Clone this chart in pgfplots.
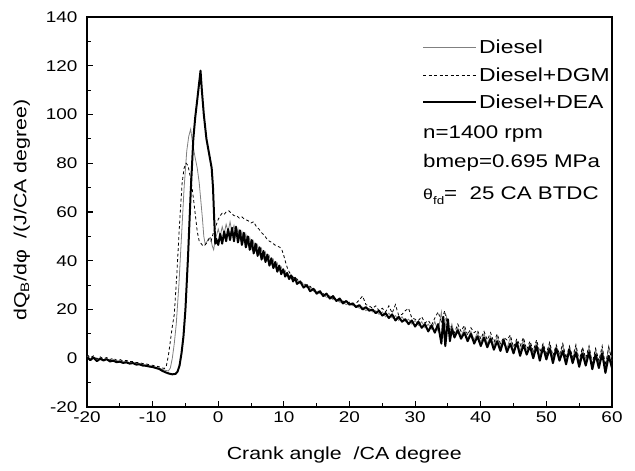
\documentclass[border=0pt]{standalone}
\usepackage{fontspec}
\setmainfont{Liberation Sans}[FakeStretch=1.22]
\usepackage{pgfplots}
\pgfplotsset{compat=1.18}
\begin{document}
\begin{tikzpicture}
\begin{axis}[
  scale only axis, width=525pt, height=390pt,
  xmin=-20, xmax=60, ymin=-20, ymax=140,
  xtick={-20,-10,...,60}, ytick={-20,0,...,140},
  minor x tick num=1, minor y tick num=1,
  xtick pos=bottom, ytick pos=left,
  tick align=inside,
  major tick length=6pt, minor tick length=4pt,
  every tick/.style={black, line width=1.1pt},
  axis line style={line width=1.4pt},
  /pgf/number format/assume math mode=true,
  tick label style={font=\fontsize{15.5}{18}\selectfont},
  yticklabel style={xshift=-6pt},
  xticklabel style={yshift=-1pt},
  label style={font=\fontsize{17.5}{21}\selectfont},
  xlabel={Crank angle \ /CA degree},
  xlabel style={at={(rel axis cs:0.49,-0.123)}, anchor=center},
  ylabel={dQ\textsubscript{B}/dφ \ /(J/CA degree)},
  ylabel style={at={(rel axis cs:-0.124,0.505)}, anchor=center, rotate=0},
  clip=true,
  legend style={draw=none, fill=none, at={(rel axis cs:0.638,0.946)}, anchor=north west,
    font=\fontsize{18.8}{22}\selectfont, row sep=8pt, inner sep=0pt},
  legend cell align=left,
  legend image code/.code={\draw[#1] (0pt,0pt) -- (53pt,0pt);},
]
\addplot[gray, line width=0.8pt] coordinates {
(-20,1.0) (-19.5,-0.3) (-19,0.6) (-18.5,-0.5) (-18,0.2) (-17.5,-0.6) (-17,-0.2) (-16.5,-0.9) (-16,-0.6) (-15.5,-1.2) (-15,-1.0) (-14.5,-1.5) (-14,-1.3) (-13.5,-1.8) (-13,-1.7) (-12.5,-2.1) (-12,-2.2) (-11.5,-2.6) (-11,-2.7) (-10.5,-3.1) (-10,-3.3) (-9.5,-3.7) (-9,-4.0) (-8.5,-4.6) (-8,-5.0) (-7.6,-5.2) (-7.3,-4) (-7.0,0) (-6.7,6) (-6.4,14) (-6.0,30) (-5.6,50) (-5.2,70) (-4.8,85) (-4.5,91) (-4.2,94) (-3.9,88) (-3.5,82) (-3.2,78) (-2.9,72) (-2.6,63) (-2.4,57) (-2.2,50) (-2.0,47) (-1.8,47.5) (-1.5,49) (-1.2,49.5) (-0.9,46) (-0.7,44.5) (-0.5,48) (-0.2,51) (0,53) (0.3,50) (0.6,54) (0.9,51) (1.2,55) (1.5,52) (1.8,56) (2.1,51.5) (2.4,54.5) (2.7,50) (3.0,53) (3.3,48.5) (3.6,52) (3.9,47.5) (4.2,51) (4.5,46.5) (4.8,49.5) (5.1,45) (5.4,48) (5.7,44) (6.0,46.5) (6.3,42.5) (6.6,45) (6.9,41) (7.2,43.5) (7.5,40) (7.8,42) (8.1,38.5) (8.4,40.5) (8.7,37) (9.0,39) (9.3,36) (9.6,37.5) (9.9,35) (10.2,36) (10.5,33.5) (11,34) (11.5,32) (12,32) (12.5,30.5) (13,30.5) (13.5,29) (14,29) (14.5,27.5) (15,27.5) (15.5,26.5) (16,26) (16.5,25) (17,25) (17.5,24) (18,24) (18.5,23) (19,23) (19.5,22) (20,22.5) (20.5,21.5) (21,21.5) (21.5,20.5) (22,21) (22.5,19.5) (23,20.5) (23.5,19) (24,19.5) (24.5,18) (25,19) (25.5,17) (26,18.5) (26.5,16.5) (27,17.5) (27.5,15.5) (28,17) (28.5,15) (29,16) (29.5,14) (30,15.5) (30.5,13.5) (31,15) (31.5,12.5) (32,14) (32.5,12) (33,15) (33.5,11) (34,19) (34.4,9) (34.8,17) (35.2,10) (35.6,14) (36,9.5) (36.5,12.5) (37,9) (37.5,12) (38,8) (38.5,11) (39,7.5) (39.5,10.5) (40,6.5) (40.5,10) (41,6) (41.5,9) (42,5) (42.5,9) (43,4.5) (43.5,8) (44,4) (44.5,8.5) (45,3) (45.5,7) (46,3) (46.5,7.5) (47,2) (47.5,6) (48,2) (48.5,6.5) (49,1) (49.5,5.5) (50,1) (50.5,6) (51,0) (51.5,5) (52,0.5) (52.5,5.5) (53,-1) (53.5,4.5) (54,-0.5) (54.5,5) (55,-2) (55.5,4) (56,-1) (56.5,4.5) (57,-3) (57.5,3.5) (58,-2) (58.5,4) (59,-4) (59.5,5) (60,-1)
};
\addlegendentry{Diesel}
\addplot[black, line width=0.8pt, dash pattern=on 3pt off 2.5pt] coordinates {
(-20,1.5) (-19.5,0.2) (-19,1.0) (-18.5,-0.2) (-18,0.6) (-17.5,-0.3) (-17,0.3) (-16.5,-0.5) (-16,0) (-15.5,-0.8) (-15,-0.5) (-14.5,-1.1) (-14,-0.9) (-13.5,-1.4) (-13,-1.3) (-12.5,-1.8) (-12,-1.8) (-11.5,-2.2) (-11,-2.3) (-10.5,-2.7) (-10,-2.9) (-9.5,-3.2) (-9,-3.5) (-8.5,-4.0) (-8.2,-4.2) (-7.9,-3) (-7.6,1) (-7.3,7) (-7.0,13) (-6.7,18) (-6.3,35) (-5.9,55) (-5.5,72) (-5.2,78) (-4.9,80) (-4.6,79) (-4.3,75) (-4.0,70) (-3.8,66) (-3.5,59) (-3.2,52) (-2.9,48) (-2.6,47) (-2.3,46) (-2.0,46.5) (-1.7,47.5) (-1.4,49) (-1.1,48) (-0.8,51) (-0.4,54) (0,57) (0.3,58.5) (0.6,59.5) (0.9,59) (1.2,60) (1.6,60.5) (2.0,59.5) (2.4,58.5) (2.8,58.5) (3.2,57.5) (3.6,58) (4.0,57) (4.5,56.5) (5.0,55.5) (5.4,56) (5.8,54) (6.2,53) (6.6,51.5) (7.0,50.5) (7.4,49) (7.8,48) (8.2,47.5) (8.6,46.5) (9.0,46) (9.4,45.5) (9.7,44.5) (10.0,42) (10.3,39) (10.6,36.5) (11,34.5) (11.5,33) (12,32.5) (12.5,31) (13,31) (13.5,29.5) (14,29.5) (14.5,28) (15,28) (15.5,27) (16,26.5) (16.5,25.5) (17,25.5) (17.5,24.5) (18,24.5) (18.5,23.5) (19,23.5) (19.5,22.5) (20,23) (20.5,22) (21,22.5) (21.5,24) (22,25.5) (22.5,22) (23,21.5) (23.5,20.5) (24,21.5) (24.5,19.5) (25,20.5) (25.5,19) (26,21.5) (26.5,18.5) (27,22) (27.5,17.5) (28,18) (28.5,19.5) (29,20.5) (29.5,16.5) (30,16) (30.5,15.5) (31,17) (31.5,14.5) (32,15.5) (32.5,13.5) (33,16.5) (33.5,19) (34,15) (34.5,19.5) (35,11.5) (35.5,13) (36,10.5) (36.5,14) (37,11) (37.5,13.5) (38,9.5) (38.5,12.5) (39,10.5) (39.5,11.5) (40,8) (40.5,11) (41,7.5) (41.5,10.5) (42,6.5) (42.5,10) (43,6) (43.5,8.5) (44,7.5) (44.5,9.5) (45,4.5) (45.5,8) (46,5) (46.5,8.5) (47,3.5) (47.5,7) (48,3) (48.5,7.5) (49,2.5) (49.5,6) (50,2) (50.5,6.5) (51,1) (51.5,5.5) (52,1.5) (52.5,6) (53,0) (53.5,5) (54,0.5) (54.5,5.5) (55,-1) (55.5,4.5) (56,0) (56.5,5) (57,-2) (57.5,4) (58,-1) (58.5,5) (59,-3) (59.5,4.5) (60,-1)
};
\addlegendentry{Diesel+DGM}
\addplot[black, line width=2pt, line join=round] coordinates {
(-20,0.5) (-19.5,-0.8) (-19,0.3) (-18.5,-1.2) (-18,-0.2) (-17.5,-0.9) (-17,-0.4) (-16.5,-1.3) (-16,-1.0) (-15.5,-1.6) (-15,-1.4) (-14.5,-1.9) (-14,-1.7) (-13.5,-2.2) (-13,-2.0) (-12.5,-2.6) (-12,-2.5) (-11.5,-3.0) (-11,-3.1) (-10.5,-3.4) (-10,-3.6) (-9.5,-4.0) (-9,-4.4) (-8.5,-5.2) (-8,-5.8) (-7.5,-6.3) (-7,-6.6) (-6.5,-6.4) (-6.2,-5.5) (-5.9,-3) (-5.6,2) (-5.3,9) (-5,20) (-4.6,42) (-4.2,68) (-3.8,90) (-3.5,99) (-3.2,106) (-2.95,112) (-2.7,118) (-2.5,110) (-2.2,100) (-1.8,90) (-1.4,84) (-1.0,78) (-0.8,70) (-0.6,56) (-0.45,47) (-0.3,49) (0,46.5) (0.3,51) (0.6,47) (0.9,52) (1.2,48) (1.5,53) (1.8,48.5) (2.1,53.5) (2.4,48) (2.7,54) (3.0,47.5) (3.3,52.5) (3.6,46.5) (3.9,51.5) (4.2,45.5) (4.5,50) (4.8,44.5) (5.1,48.5) (5.4,43) (5.7,47) (6.0,42) (6.3,45.5) (6.6,40.5) (6.9,44) (7.2,39.5) (7.5,42.5) (7.8,38) (8.1,41) (8.4,37) (8.7,39.5) (9.0,35.5) (9.3,38) (9.6,34.5) (9.9,36.5) (10.2,33.5) (10.5,35) (10.8,32.5) (11.1,34) (11.4,31.5) (11.7,33) (12.0,30.5) (12.5,31.5) (13.0,29) (13.5,30) (14.0,27.5) (14.5,28.5) (15.0,26.5) (15.5,27.5) (16.0,25.5) (16.5,26.5) (17,24.5) (17.5,25.5) (18,23.5) (18.5,24.5) (19,22.5) (19.5,23.5) (20,22) (20.5,22.5) (21,21) (21.5,21.8) (22,20) (22.5,21) (23,19.5) (23.5,20) (24,18.5) (24.5,19.5) (25,17.5) (25.5,18.5) (26,16.5) (26.5,18) (27,15.5) (27.5,17) (28,15) (28.5,16) (29,14) (29.5,15.5) (30,13) (30.5,15) (31,12.5) (31.5,14) (32,11) (32.5,13.5) (33,10.5) (33.5,14) (34,6) (34.3,17) (34.6,5) (35,16) (35.3,7) (35.6,12) (36,8.5) (36.5,11.5) (37,8) (37.5,10.5) (38,7) (38.5,10) (39,6) (39.5,9) (40,5) (40.5,8.5) (41,4.5) (41.5,8) (42,3.5) (42.5,7) (43,3) (43.5,7.5) (44,2.5) (44.5,6) (45,2) (45.5,6.5) (46,1) (46.5,5.5) (47,1.5) (47.5,5) (48,0) (48.5,5) (49,-1) (49.5,4.5) (50,-0.5) (50.5,4) (51,-2) (51.5,4) (52,-1) (52.5,3) (53,-2.5) (53.5,3.5) (54,-2) (54.5,2.5) (55,-3.5) (55.5,2) (56,-3) (56.5,2.5) (57,-4.5) (57.5,1.5) (58,-4) (58.5,2) (59,-6) (59.5,1) (60,-4)
};
\addlegendentry{Diesel+DEA}
\node[anchor=west, inner sep=0pt, font=\fontsize{18.3}{22}\selectfont] at (axis cs:31.2,91.8) {n=1400 rpm};
\node[anchor=west, inner sep=0pt, font=\fontsize{18.3}{22}\selectfont] at (axis cs:31.2,80.0) {bmep=0.695 MPa};
\node[anchor=west, inner sep=0pt, font=\fontsize{18.3}{22}\selectfont] at (axis cs:31.2,66.6) {{\fontsize{14.5}{17}\selectfont θ}\raisebox{-0.5ex}{\fontsize{11}{12}\selectfont fd}= \ 25 CA BTDC};
\end{axis}
\pgfresetboundingbox
\path (-87pt,-64pt) rectangle (548pt,407pt);
\end{tikzpicture}
\end{document}
